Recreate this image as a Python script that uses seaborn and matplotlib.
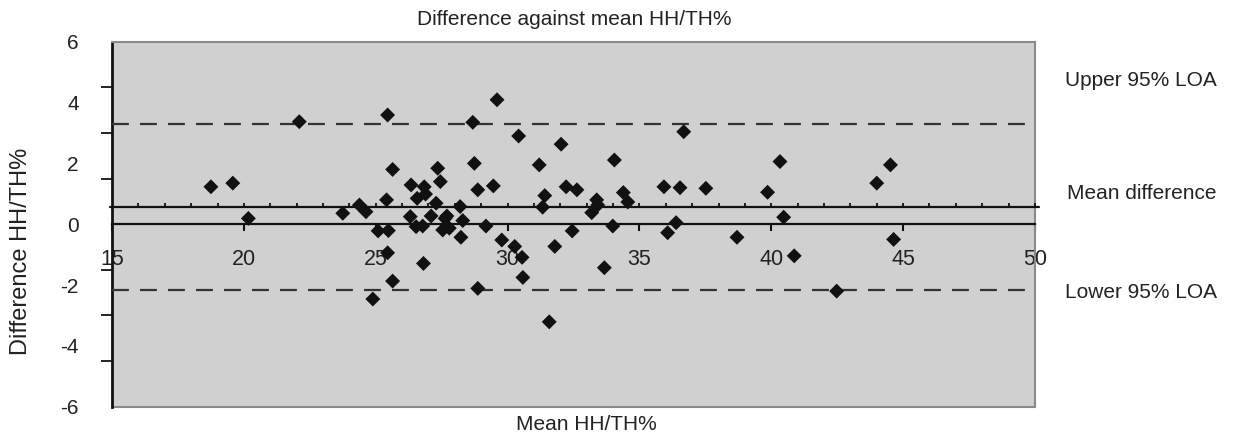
import numpy as np
import pandas as pd
import matplotlib
matplotlib.use("Agg")
import matplotlib.pyplot as plt
import seaborn as sns

# Bland-Altman data
mean_hh = [18.75, 19.58, 20.17, 22.10, 23.75, 24.38, 24.63, 25.45, 25.64, 25.41,
           25.09, 25.48, 28.68, 29.60, 30.42, 27.35, 28.74, 26.34, 26.84, 27.45,
           26.89, 28.87, 29.46, 26.57, 27.29, 28.20, 26.31, 27.10, 27.63, 28.30,
           26.53, 26.78, 27.54, 27.79, 29.18, 28.23, 29.78, 25.45, 26.81, 30.27,
           30.55, 30.58, 25.64, 28.87, 24.89, 31.58, 31.79, 32.45, 32.03, 31.20,
           34.05, 36.68, 32.22, 32.63, 31.41, 35.93, 36.54, 34.39, 34.56, 33.38,
           33.42, 31.33, 33.19, 33.99, 36.39, 36.07, 33.67, 40.33, 44.52, 44.00,
           37.52, 39.86, 40.47, 38.70, 40.87, 44.64, 42.48, 27.70]
diff_hh = [1.23, 1.35, 0.19, 3.37, 0.36, 0.63, 0.41, 3.59, 1.80, 0.80,
           -0.22, -0.21, 3.35, 4.09, 2.90, 1.84, 2.00, 1.29, 1.23, 1.40,
           0.99, 1.13, 1.26, 0.85, 0.69, 0.58, 0.25, 0.27, 0.19, 0.12,
           -0.08, -0.06, -0.19, -0.13, -0.06, -0.43, -0.52, -0.94, -1.29, -0.73,
           -1.09, -1.75, -1.87, -2.11, -2.46, -3.21, -0.73, -0.22, 2.63, 1.95,
           2.11, 3.04, 1.23, 1.13, 0.94, 1.23, 1.20, 1.04, 0.73, 0.80,
           0.63, 0.56, 0.38, -0.06, 0.05, -0.28, -1.43, 2.06, 1.95, 1.35,
           1.18, 1.05, 0.23, -0.43, -1.04, -0.50, -2.20, 0.27]

mean_diff = 0.56
upper_loa = 3.28
lower_loa = -2.16
mark_x = list(range(16, 51))

x_ticks = [15, 20, 25, 30, 35, 40, 45, 50]
y_labels = [-6, -4, -2, 0, 2, 4, 6]
y_marks = [-6, -4.5, -3, -1.5, 0, 1.5, 3, 4.5, 6]

sns.set_theme(style="white")
plt.rcParams['font.family'] = ['Liberation Sans', 'DejaVu Sans']

fig = plt.figure(figsize=(12.34, 4.34), dpi=100)
ax = fig.add_axes([0.0908, 0.0629, 0.7479, 0.841])
ax.set_facecolor('#d0d0d0')

df = pd.DataFrame({'mean': mean_hh, 'diff': diff_hh})
sns.scatterplot(data=df, x='mean', y='diff', marker='D', s=58, color='#111111',
                edgecolor='none', ax=ax, zorder=5)

ax.axhline(mean_diff, xmin=-0.002, xmax=1.004, color='#111111', lw=1.6, zorder=3,
           clip_on=False)
ax.plot(mark_x, [mean_diff] * len(mark_x), ls='none', marker=2, ms=3, mew=1.3,
        color='#111111', zorder=3)
ax.axhline(upper_loa, color='#333333', lw=1.6, dashes=(7.6, 5), zorder=3)
ax.axhline(lower_loa, color='#333333', lw=1.6, dashes=(7.6, 5), zorder=3)
ax.axhline(-6, color='#8a8a8a', lw=1.5, clip_on=False)

ax.set_xlim(15, 50)
ax.set_ylim(-6, 6)

ax.spines['bottom'].set_position(('data', 0))
ax.spines['bottom'].set_color('#111111')
ax.spines['bottom'].set_linewidth(1.6)
ax.spines['left'].set_color('#111111')
ax.spines['left'].set_linewidth(2)
for s in ['top', 'right']:
    ax.spines[s].set_color('#8a8a8a')
    ax.spines[s].set_linewidth(1.5)

ax.set_xticks(x_ticks)
ax.set_xticklabels([str(v) for v in x_ticks])
ax.tick_params(axis='x', which='major', bottom=True, direction='out', length=5,
               width=1.5, color='#111111', pad=13, labelsize=15.5, labelcolor='#222222')

ax.set_yticks(y_labels)
ax.set_yticklabels([str(v) for v in y_labels])
ax.tick_params(axis='y', which='major', left=True, length=0, pad=24,
               labelsize=15, labelcolor='#222222')
ax.set_yticks(y_marks, minor=True)
ax.tick_params(axis='y', which='minor', left=True, direction='out', length=8,
               width=1.3, color='#111111')
ax.set_xlabel('')
ax.set_ylabel('')

fig.text(0.465, 0.954, 'Difference against mean HH/TH%', ha='center', va='center',
         fontsize=15, color='#222222')
fig.text(0.475, 0.021, 'Mean HH/TH%', ha='center', va='center',
         fontsize=15, color='#222222')
fig.text(0.017, 0.42, 'Difference HH/TH%', ha='center', va='center', rotation=90,
         fontsize=17, color='#222222')

fig.text(0.9862, 0.814, 'Upper 95% LOA', ha='right', va='center', fontsize=15, color='#222222')
fig.text(0.9862, 0.555, 'Mean difference', ha='right', va='center', fontsize=15, color='#222222')
fig.text(0.9862, 0.327, 'Lower 95% LOA', ha='right', va='center', fontsize=15, color='#222222')

fig.savefig('out.png', dpi=100)
